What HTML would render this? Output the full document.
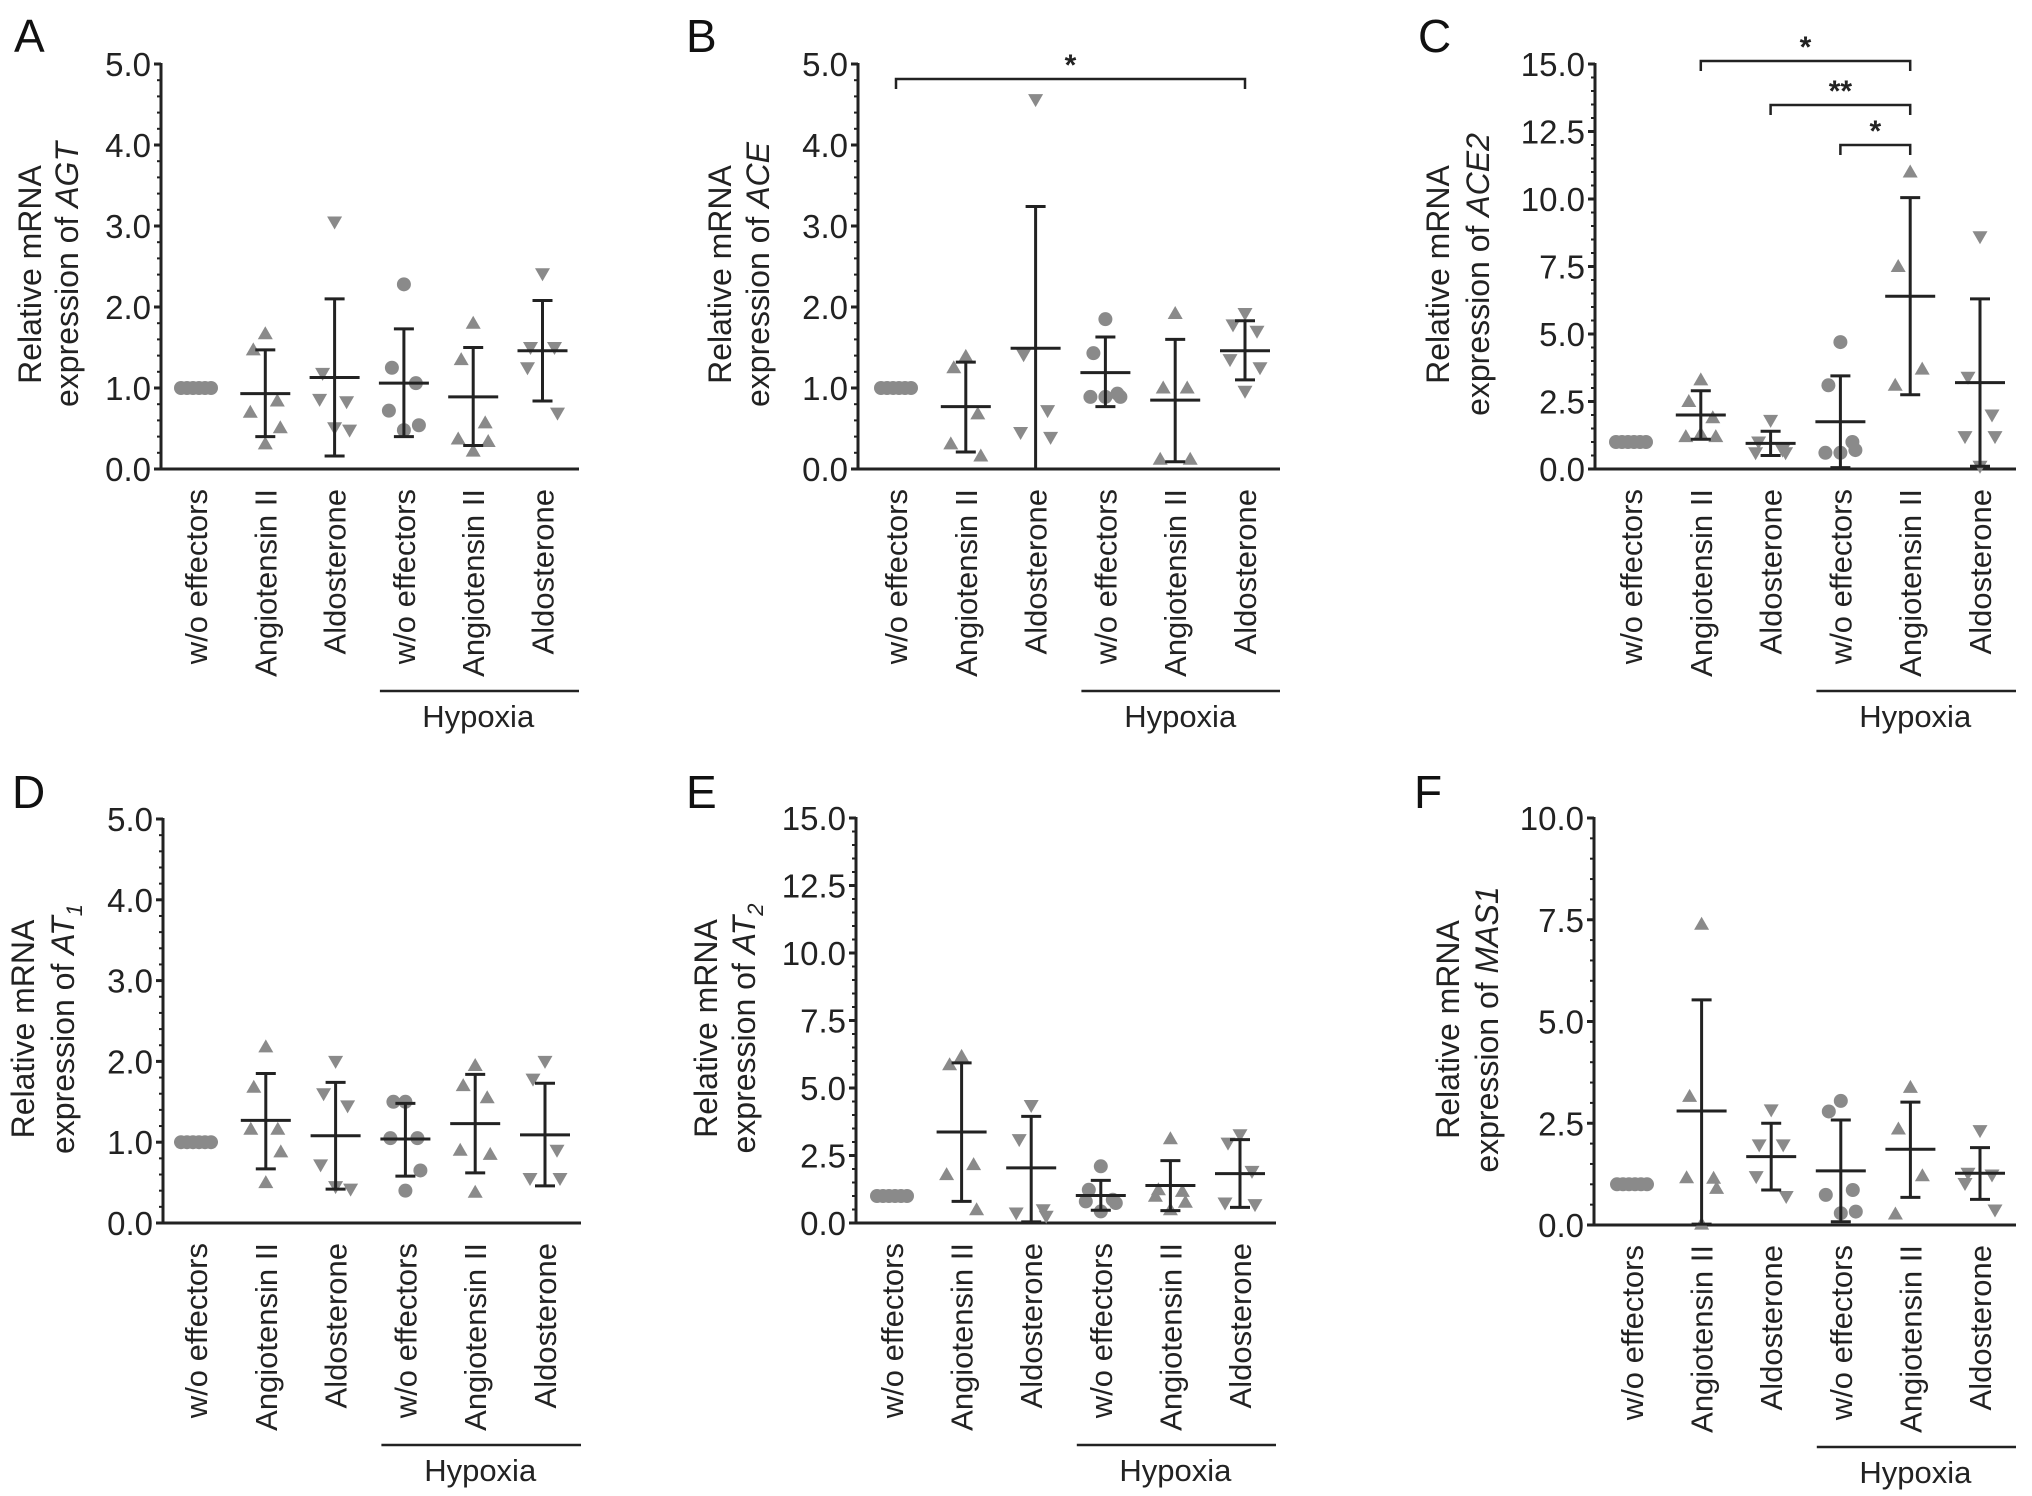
<!DOCTYPE html>
<html><head><meta charset="utf-8"><style>
body{margin:0;background:#fff;}
svg{display:block;font-family:"Liberation Sans",Arial,sans-serif;}
</style></head><body>
<svg id="fig" width="2032" height="1496" viewBox="0 0 2032 1496" xmlns="http://www.w3.org/2000/svg"></svg>
<script>
const categories = ["w/o effectors","Angiotensin II","Aldosterone","w/o effectors","Angiotensin II","Aldosterone"];
const markerTypes = ["circle","up","down","circle","up","down"];
// Panel A – AGT
const aMeans = [1.0,0.93,1.13,1.06,0.89,1.46];
const aHi = [1.0,1.47,2.10,1.73,1.50,2.08];
const aLo = [1.0,0.40,0.16,0.40,0.29,0.84];
const aPts = [[1,1,1,1,1,1],[1.67,1.47,0.84,0.70,0.51,0.31],[3.05,1.18,0.83,0.86,0.48,0.51],[2.28,1.25,1.06,0.72,0.54,0.48],[1.80,1.35,0.57,0.37,0.34,0.22],[2.41,1.50,1.50,1.25,0.69]];
// Panel B – ACE
const bMeans = [1.0,0.77,1.49,1.19,0.85,1.46];
const bHi = [1.0,1.32,3.24,1.63,1.60,1.83];
const bLo = [1.0,0.21,0.0,0.77,0.09,1.10];
const bPts = [[1,1,1,1,1,1],[1.39,1.25,0.68,0.31,0.16],[4.56,1.41,0.72,0.45,0.39],[1.85,1.43,0.93,0.89,0.89,0.89],[1.92,1.0,1.0,0.12,0.12],[1.92,1.78,1.70,1.35,1.25,0.96]];
// Panel C – ACE2
const cMeans = [1.0,2.0,0.95,1.75,6.4,3.2];
const cHi = [1.0,2.9,1.4,3.45,10.05,6.3];
const cLo = [1.0,1.1,0.5,0.05,2.75,0.1];
const cPts = [[1,1,1,1,1,1],[3.3,2.5,1.9,1.2,1.2,1.3],[1.8,1.0,0.7,0.6,0.6],[4.7,3.1,1.0,0.6,0.7,0.6],[11.0,7.5,3.7,3.1],[8.6,3.4,2.0,1.2,1.2,0.1]];
// Panel D – AT1
const dMeans = [1.0,1.27,1.08,1.04,1.23,1.09];
const dHi = [1.0,1.85,1.74,1.48,1.84,1.73];
const dLo = [1.0,0.67,0.42,0.58,0.62,0.46];
const dPts = [[1,1,1,1,1,1],[2.18,1.68,1.16,1.16,0.88,0.50],[2.0,1.6,1.45,0.72,0.42,0.45],[1.5,1.5,1.05,1.05,0.65,0.40],[1.95,1.70,1.55,0.90,0.85,0.38],[2.0,1.78,0.9,0.55,0.55]];
// Panel E – AT2
const eMeans = [1.0,3.37,2.04,1.02,1.39,1.83];
const eHi = [1.0,5.93,3.95,1.58,2.31,3.09];
const eLo = [1.0,0.8,0.04,0.47,0.46,0.58];
const ePts = [[1,1,1,1,1,1],[6.17,5.86,2.16,1.79,0.49],[4.35,3.09,0.49,0.37,0.25],[2.1,1.23,0.86,0.8,0.74,0.43],[3.12,1.23,1.17,0.99,0.77,0.49],[3.27,2.96,1.91,0.74,0.68]];
// Panel F – MAS1
const fMeans = [1.0,2.80,1.68,1.33,1.86,1.27];
const fHi = [1.0,5.53,2.5,2.58,3.02,1.9];
const fLo = [1.0,0.02,0.86,0.08,0.68,0.63];
const fPts = [[1,1,1,1,1,1],[7.39,3.16,1.15,1.16,0.9,0.02],[2.83,1.97,1.97,1.19,0.70],[3.05,2.79,0.86,0.74,0.33,0.29],[3.38,2.36,1.21,0.27],[2.32,1.27,1.23,1.02,0.37]];
const ticks5 = ["0.0","1.0","2.0","3.0","4.0","5.0"];
const ticks15 = ["0.0","2.5","5.0","7.5","10.0","12.5","15.0"];
const ticks10 = ["0.0","2.5","5.0","7.5","10.0"];
const bSig = [[0,5,"*"]];
const cSig = [[1,4,"*"],[2,4,"**"],[3,4,"*"]];

const NS="http://www.w3.org/2000/svg";
const svg=document.getElementById('fig');
function mk(tag,attrs,parent,text){const e=document.createElementNS(NS,tag);for(const k in attrs)e.setAttribute(k,attrs[k]);if(text!==undefined)e.textContent=text;(parent||svg).appendChild(e);return e;}

function panel(o){
  const g=mk('g',{});
  
  
  const ymax=o.ymax;
  const Y=v=>o.bottom-(v/ymax)*(o.bottom-o.top);
  const X=i=>o.c0+i*o.dx;
  const L=mk('text',{x:o.lx,y:o.ly,'font-size':46,fill:'#111'},g,o.letter);
  
  
  const ya=mk('line',{x1:o.ax,y1:Y(ymax)-1,x2:o.ax,y2:o.bottom,stroke:'#222','stroke-width':3},g);
  
  
  const xa=mk('line',{x1:o.ax-1,y1:o.bottom,x2:o.right,y2:o.bottom,stroke:'#222','stroke-width':3},g);
  
  
  for(let v=0;v<=ymax+1e-9;v+=o.minor){mk('line',{x1:o.ax-4,y1:Y(v),x2:o.ax,y2:Y(v),stroke:'#222','stroke-width':2},g);}
  o.ticks.forEach(t=>{const v=parseFloat(t);
    mk('line',{x1:o.ax-7,y1:Y(v),x2:o.ax,y2:Y(v),stroke:'#222','stroke-width':3},g);
    const tt=mk('text',{x:o.ax-10,y:Y(v)+12,'font-size':33,'text-anchor':'end',fill:'#222'},g,t);
    
    
  });
  const cy=(o.top+o.bottom)/2+8;
  const t1=mk('text',{transform:`translate(${o.t1} ${cy}) rotate(-90)`,'font-size':32,'text-anchor':'middle',fill:'#222'},g,'Relative mRNA');
  
  
  const t2=mk('text',{transform:`translate(${o.t2} ${cy}) rotate(-90)`,'font-size':32,'text-anchor':'middle',fill:'#222'},g);
  
  
  mk('tspan',{},t2,'expression of ');
  mk('tspan',{'font-style':'italic'},t2,o.gene);
  if(o.sub){mk('tspan',{'font-style':'italic','font-size':22,dy:8},t2,o.sub);}
  categories.forEach((c,i)=>{
    const ct=mk('text',{transform:`translate(${X(i)+11} ${o.bottom+20}) rotate(-90)`,'font-size':31,'text-anchor':'end',fill:'#222'},g,c);
    
    
  });
  const hy=o.bottom+222;
  const hl=mk('line',{x1:X(3)-24,y1:hy,x2:o.right,y2:hy,stroke:'#222','stroke-width':2.5},g);
  
  
  const ht=mk('text',{x:X(4)+5,y:hy+36,'font-size':31,'text-anchor':'middle',fill:'#222'},g,'Hypoxia');
  
  
  const jit=[0,-1,1,-1,1,0];
  o.pts.forEach((arr,i)=>{
    arr.forEach((v,j)=>{
      let x;
      if(i===0){x=X(i)+(j-2.5)*6;}else{x=X(i)+jit[j%6]*(j<3?12:15)*(j===5?0:1);}
      const y=Y(v);let m;
      const t=markerTypes[i];
      if(t==='circle') m=mk('circle',{cx:x,cy:y,r:7,fill:'#8a8a8a'},g);
      else if(t==='up') m=mk('path',{d:`M${x} ${y-7.5}L${x+7.5} ${y+5.5}L${x-7.5} ${y+5.5}Z`,fill:'#8a8a8a'},g);
      else m=mk('path',{d:`M${x} ${y+7.5}L${x+7.5} ${y-5.5}L${x-7.5} ${y-5.5}Z`,fill:'#8a8a8a'},g);
      
      
    });
    if(i>0){
      const x=X(i);
      const eb=mk('line',{x1:x,y1:Y(o.hi[i]),x2:x,y2:Y(o.lo[i]),stroke:'#222','stroke-width':3},g);
      
      
      mk('line',{x1:x-10,y1:Y(o.hi[i]),x2:x+10,y2:Y(o.hi[i]),stroke:'#222','stroke-width':3},g);
      mk('line',{x1:x-10,y1:Y(o.lo[i]),x2:x+10,y2:Y(o.lo[i]),stroke:'#222','stroke-width':3},g);
      const ml=mk('line',{x1:x-25,y1:Y(o.means[i]),x2:x+25,y2:Y(o.means[i]),stroke:'#222','stroke-width':3},g);
      
      
    }
  });
  (o.sig||[]).forEach((s,k)=>{
    const y=o.sigY[k];
    const p=mk('path',{d:`M${X(s[0])} ${y+10}V${y}H${X(s[1])}V${y+10}`,fill:'none',stroke:'#222','stroke-width':2.5},g);
    
    
    const st=mk('text',{x:(X(s[0])+X(s[1]))/2,y:y-4,'font-size':30,'font-weight':'bold','text-anchor':'middle',fill:'#222'},g,s[2]);
    
    
  });
}
panel({letter:'A',lx:14,ly:52,ax:161,top:64,bottom:469,right:579,c0:196,dx:69.3,ymax:5,minor:0.2,ticks:ticks5,t1:41,t2:78,gene:'AGT',means:aMeans,hi:aHi,lo:aLo,pts:aPts});
panel({letter:'B',lx:686,ly:52,ax:858,top:64,bottom:469,right:1280,c0:896,dx:69.8,ymax:5,minor:0.2,ticks:ticks5,t1:731,t2:769,gene:'ACE',means:bMeans,hi:bHi,lo:bLo,pts:bPts,sig:bSig,sigY:[79]});
panel({letter:'C',lx:1418,ly:52,ax:1595,top:64,bottom:469,right:2016,c0:1631,dx:69.8,ymax:15,minor:0.5,ticks:ticks15,t1:1449,t2:1489,gene:'ACE2',means:cMeans,hi:cHi,lo:cLo,pts:cPts,sig:cSig,sigY:[61,105,145]});
panel({letter:'D',lx:12,ly:808,ax:163,top:819,bottom:1223,right:581,c0:196,dx:69.8,ymax:5,minor:0.2,ticks:ticks5,t1:34,t2:74,gene:'AT',sub:'1',means:dMeans,hi:dHi,lo:dLo,pts:dPts});
panel({letter:'E',lx:686,ly:808,ax:856,top:818,bottom:1223,right:1276,c0:892,dx:69.6,ymax:15,minor:0.5,ticks:ticks15,t1:717,t2:755,gene:'AT',sub:'2',means:eMeans,hi:eHi,lo:eLo,pts:ePts});
panel({letter:'F',lx:1414,ly:808,ax:1594,top:818,bottom:1225,right:2016,c0:1632,dx:69.6,ymax:10,minor:0.5,ticks:ticks10,t1:1459,t2:1498,gene:'MAS1',means:fMeans,hi:fHi,lo:fLo,pts:fPts});
</script>
</body></html>
